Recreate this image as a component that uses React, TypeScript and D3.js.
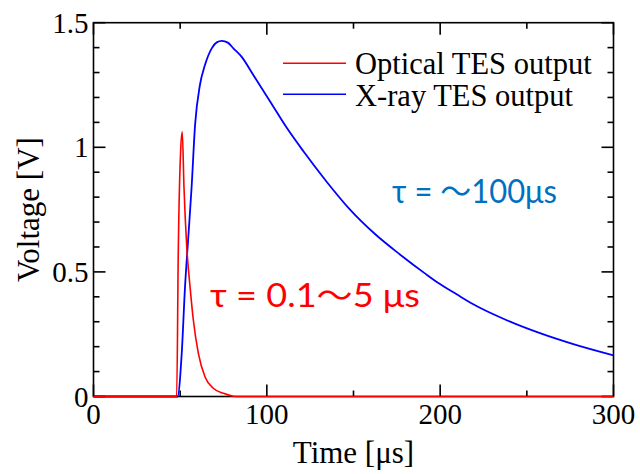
import * as d3 from "d3";

const xrayT = [0, 48.5, 50.9, 52.8, 54.7, 56.6, 58.6, 61.4, 64.3, 68.2, 71.1, 74, 77.5, 80.7, 85.5, 92.2, 101.8, 111.5, 121, 134.5, 148, 162.4, 176.8, 191.2, 199.9, 209.5, 219.1, 238.4, 257.6, 276.8, 300];
const xrayV = [0, 0, 0.173, 0.44, 0.64, 0.84, 1.09, 1.25, 1.33, 1.397, 1.421, 1.427, 1.42, 1.397, 1.363, 1.29, 1.185, 1.078, 0.985, 0.862, 0.75, 0.652, 0.57, 0.494, 0.451, 0.41, 0.37, 0.306, 0.254, 0.21, 0.165];

const opticalT = [0, 48, 48.9, 50.3, 51.2, 52.2, 53.8, 55.7, 57.6, 60.5, 64.3, 69.1, 74.9, 82, 300];
const opticalV = [0, 0, 0.574, 0.99, 1.062, 0.84, 0.6, 0.44, 0.307, 0.173, 0.079, 0.033, 0.013, 0, 0];

const xMajor = [0, 100, 200, 300];
const xMinor = [50, 150, 250];
const yMajor = [0, 0.5, 1, 1.5];
const yMinor = [0.1, 0.2, 0.3, 0.4, 0.6, 0.7, 0.8, 0.9, 1.1, 1.2, 1.3, 1.4];
const yLabels = ["0", "0.5", "1", "1.5"];

const legendItems = [
  { name: "Optical TES output", color: "#ff0000" },
  { name: "X-ray TES output", color: "#0000ff" },
];

const serif = "'Liberation Serif', 'Times New Roman', serif";
const sans = "Lato, 'Liberation Sans', 'Noto Sans CJK JP', sans-serif";

export default function App() {
  const width = 640;
  const height = 474;
  const left = 93.5, right = 613.5, top = 22.7, bottom = 396.5;

  const x = d3.scaleLinear().domain([0, 300]).range([left, right]);
  const y = d3.scaleLinear().domain([0, 1.5]).range([bottom, top]);

  const line = d3
    .line<[number, number]>()
    .x((d) => x(d[0]))
    .y((d) => y(d[1]))
    .curve(d3.curveMonotoneX);

  const xray = xrayT.map((t, i) => [t, xrayV[i]] as [number, number]);
  const optical = opticalT.map((t, i) => [t, opticalV[i]] as [number, number]);

  return (
    <svg width={width} height={height} style={{ position: "absolute", left: 0, top: 0, background: "#fff" }}>
      {/* ticks, all pointing inward */}
      <g stroke="#000" strokeWidth={1.6}>
        {xMajor.map((t) => (
          <g key={"xM" + t}>
            <line x1={x(t)} x2={x(t)} y1={bottom} y2={bottom - 12} />
            <line x1={x(t)} x2={x(t)} y1={top} y2={top + 12} />
          </g>
        ))}
        {xMinor.map((t) => (
          <g key={"xm" + t}>
            <line x1={x(t)} x2={x(t)} y1={bottom} y2={bottom - 6} />
            <line x1={x(t)} x2={x(t)} y1={top} y2={top + 6} />
          </g>
        ))}
        {yMajor.map((v) => (
          <g key={"yM" + v}>
            <line x1={left} x2={left + 12} y1={y(v)} y2={y(v)} />
            <line x1={right} x2={right - 12} y1={y(v)} y2={y(v)} />
          </g>
        ))}
        {yMinor.map((v) => (
          <g key={"ym" + v}>
            <line x1={left} x2={left + 6} y1={y(v)} y2={y(v)} />
            <line x1={right} x2={right - 6} y1={y(v)} y2={y(v)} />
          </g>
        ))}
      </g>
      <rect x={left} y={top} width={right - left} height={bottom - top} fill="none" stroke="#000" strokeWidth={1.6} />

      {/* curves */}
      <path d={line(xray) ?? ""} fill="none" stroke="#0000ff" strokeWidth={1.8} />
      <path d={line(optical) ?? ""} fill="none" stroke="#ff0000" strokeWidth={1.6} />

      {/* tick labels */}
      <g fontFamily={serif} fontSize={29} fill="#000">
        {yMajor.map((v, i) => (
          <text key={"yl" + v} x={left - 5} y={y(v)} dy="0.35em" textAnchor="end">
            {yLabels[i]}
          </text>
        ))}
        {xMajor.map((t) => (
          <text key={"xl" + t} x={x(t)} y={424} textAnchor="middle">
            {t}
          </text>
        ))}
      </g>

      {/* axis titles */}
      <text x={(left + right) / 2} y={463} textAnchor="middle" fontFamily={serif} fontSize={31}>
        Time [μs]
      </text>
      <text
        transform={`translate(39, ${(top + bottom) / 2}) rotate(-90)`}
        textAnchor="middle"
        fontFamily={serif}
        fontSize={31}
      >
        Voltage [V]
      </text>

      {/* legend */}
      {legendItems.map((d, i) => (
        <g key={d.name}>
          <line x1={283} x2={346} y1={63.3 + i * 31} y2={63.3 + i * 31} stroke={d.color} strokeWidth={1.6} />
          <text x={355} y={74 + i * 32} fontFamily={serif} fontSize={30.5}>
            {d.name}
          </text>
        </g>
      ))}

      {/* annotations */}
      <text x={392} y={203} fontFamily={sans} fontSize={32} fill="#0070c0" textLength={165} lengthAdjust="spacingAndGlyphs">
        τ = ～100μs
      </text>
      <text x={210} y={307} fontFamily={sans} fontSize={32} fill="#ff0000" textLength={210} lengthAdjust="spacingAndGlyphs">
        τ = 0.1～5 μs
      </text>
    </svg>
  );
}
